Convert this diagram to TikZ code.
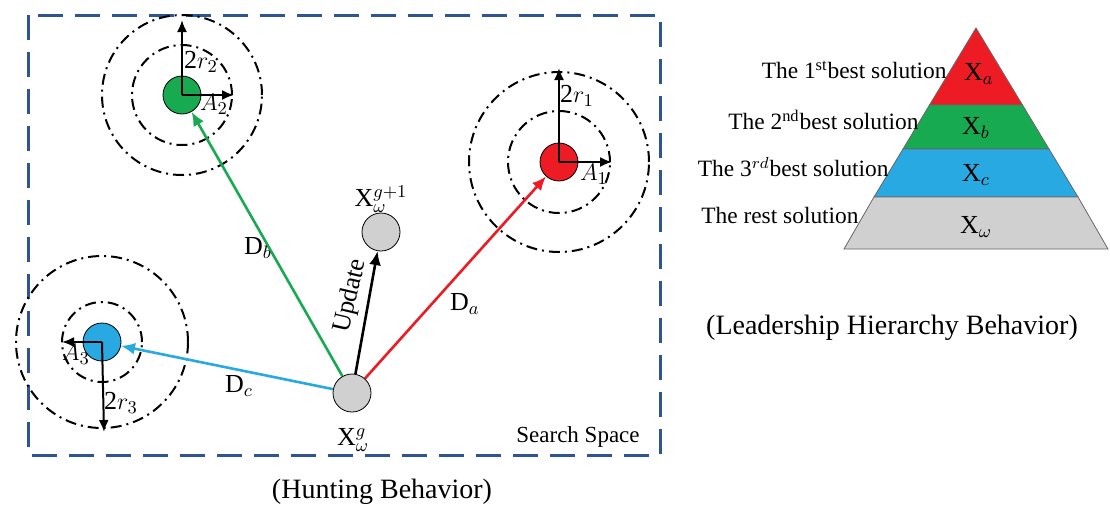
\documentclass[tikz,border=0pt]{standalone}
\usepackage{fontspec}
\setmainfont{Liberation Serif}
\usetikzlibrary{arrows.meta}
\definecolor{rouge}{RGB}{237,28,36}
\definecolor{vert}{RGB}{24,170,80}
\definecolor{bleu}{RGB}{41,169,225}
\definecolor{gris}{RGB}{208,208,208}
\definecolor{cadre}{RGB}{47,84,150}
\begin{document}
\begin{tikzpicture}[x=0.5pt,y=-0.5pt]
	\tikzstyle{loup}=[circle,draw,thin,minimum size=19pt,inner sep=0pt]
	\tikzstyle{cercle}=[line width=1pt,dash pattern=on 5.5pt off 2.5pt on 1pt off 2.5pt]
	\tikzstyle{rayon}=[-{Latex[length=6pt,width=5pt]},line width=1pt]
	\tikzstyle{fleche}=[-{Latex[length=7pt,width=6pt]},line width=1.3pt]
	\tikzstyle{etiq}=[font=\fontsize{13}{15}\selectfont,inner sep=1pt]
	\tikzstyle{sol}=[font=\fontsize{11.7}{14}\selectfont,anchor=east,inner sep=0pt]
	\useasboundingbox (0,0) rectangle (1110,511);
	\draw[cadre,line width=1.5pt,dash pattern=on 12.5pt off 6pt] (28,15) rectangle (660,455);
	% les loups
	\node[loup,fill=vert] (alpha) at (182,95) {};
	\node[loup,fill=rouge] (beta) at (559,162) {};
	\node[loup,fill=bleu] (delta) at (102,342) {};
	\node[loup,fill=gris] (xg) at (352,393) {};
	\node[loup,fill=gris] (xg1) at (381,232) {};
	\draw[cercle] (alpha) circle[radius=25pt];
	\draw[cercle] (alpha) circle[radius=40pt];
	\draw[cercle] (beta) circle[radius=25.5pt];
	\draw[cercle] (beta) circle[radius=45pt];
	\draw[cercle] (delta) circle[radius=20pt];
	\draw[cercle] (delta) circle[radius=43pt];
	% rayons
	\coordinate (alpha_r) at (182,20);
	\coordinate (alpha_a) at (234,95);
	\coordinate (beta_r) at (559,68);
	\coordinate (beta_a) at (612,162);
	\coordinate (delta_r) at (104,432);
	\coordinate (delta_a) at (62,342);
	\draw[rayon] (alpha.center) -- (alpha_r);
	\draw[rayon] (alpha.center) -- (alpha_a);
	\draw[rayon] (beta.center) -- (beta_r);
	\draw[rayon] (beta.center) -- (beta_a);
	\draw[rayon] (delta.center) -- (delta_r);
	\draw[rayon] (delta.center) -- (delta_a);
	\node[etiq] (t_alpha_r) at (201,62) {2$r_2$};
	\node[etiq] (t_alpha_a) at (214,104) {$A_2$};
	\node[etiq] (t_beta_r) at (577,96) {2$r_1$};
	\node[etiq] (t_beta_a) at (594,174) {$A_1$};
	\node[etiq] (t_delta_a) at (76,354) {$A_3$};
	\node[etiq] (t_delta_r) at (121,403) {2$r_3$};
	% deplacements
	\draw[fleche,vert] (xg) -- (alpha);
	\draw[fleche,rouge] (xg) -- (beta);
	\draw[fleche,bleu] (xg) -- (delta);
	\draw[fleche] (xg) -- (xg1);
	\node[etiq,rotate=77] (maj) at (351,296) {Update};
	\node[etiq] (d_b) at (258,248) {D$_b$};
	\node[etiq] (d_a) at (465,304) {D$_a$};
	\node[etiq] (d_c) at (239,386) {D$_c$};
	\node[etiq] (t_xg1) at (381,199) {X$_\omega^{g+1}$};
	\node[etiq] (t_xg) at (353,440) {X$_\omega^{g}$};
	\node[font=\fontsize{11.5}{14}\selectfont] (espace) at (578,437) {Search Space};
	\node[font=\fontsize{14}{17}\selectfont] (chasse) at (382,492) {(Hunting Behavior)};
	% pyramide
	\filldraw[fill=rouge,draw=black!60,thin] (976,28) -- (1022.5,105) -- (929.5,105) -- cycle;
	\filldraw[fill=vert,draw=black!60,thin] (929.5,105) -- (1022.5,105) -- (1049,149) -- (903,149) -- cycle;
	\filldraw[fill=bleu,draw=black!60,thin] (903,149) -- (1049,149) -- (1078,197) -- (874,197) -- cycle;
	\filldraw[fill=gris,draw=black!60,thin] (874,197) -- (1078,197) -- (1108,249) -- (844,249) -- cycle;
	\node[etiq] (xa) at (979,74) {X$_a$};
	\node[etiq] (xb) at (976,128) {X$_b$};
	\node[etiq] (xc) at (976,175) {X$_c$};
	\node[etiq] (xw) at (976,227) {X$_\omega$};
	\node[sol] (s1) at (947,70) {The 1\textsuperscript{st}best solution};
	\node[sol] (s2) at (919,120) {The 2\textsuperscript{nd}best solution};
	\node[sol] (s3) at (889,167) {The 3$^{rd}$best solution};
	\node[sol] (s4) at (859,215) {The rest solution};
	\node[font=\fontsize{14}{17}\selectfont] (chef) at (892,328) {(Leadership Hierarchy Behavior)};
\end{tikzpicture}
\end{document}
